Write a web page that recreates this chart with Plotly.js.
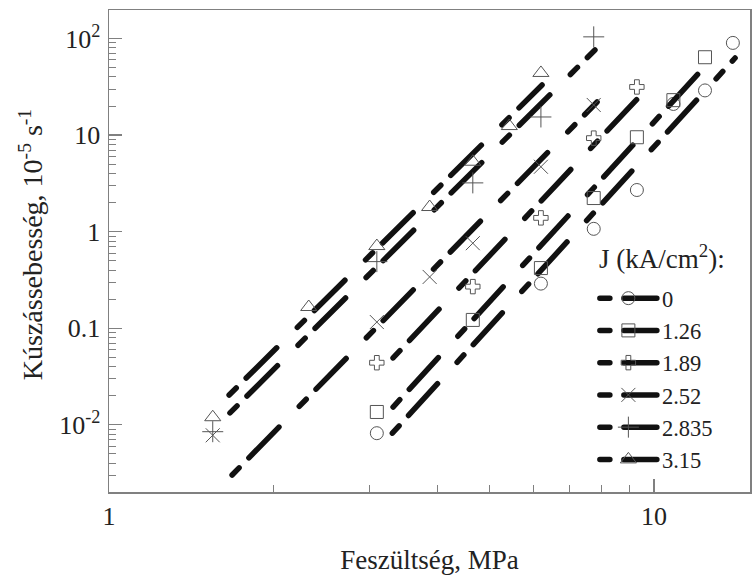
<!DOCTYPE html>
<html><head><meta charset="utf-8">
<script src="https://cdn.plot.ly/plotly-3.0.1.min.js"></script>
<style>
html,body{margin:0;padding:0;background:#fff;}
#chart{width:752px;height:576px;}
.scatterlayer path.js-line, .legendlines path { stroke-linecap: round !important; }
</style></head><body><div id="chart"></div>
<script>
// Legend labels (J, kA/cm^2)
const J_labels = ['0', '1.26', '1.89', '2.52', '2.835', '3.15'];
const legendTitle = 'J (kA/cm<sup>2</sup>):';
const xTitle = 'Feszültség, MPa';
const yTitle = 'Kúszássebesség, 10<sup>-5</sup> s<sup>-1</sup>';

// Measured points: stress (MPa) and creep rate (10^-5 1/s)
const stress_J0    = [3.1, 6.2, 7.75, 9.3, 10.85, 12.4, 13.95];
const rate_J0      = [0.0082, 0.29, 1.07, 2.7, 21, 29, 90];
const stress_J126  = [3.1, 4.65, 6.2, 7.75, 9.3, 10.85, 12.4];
const rate_J126    = [0.0136, 0.122, 0.42, 2.23, 9.5, 23, 64];
const stress_J189  = [3.1, 4.65, 6.2, 7.75, 9.3];
const rate_J189    = [0.044, 0.27, 1.39, 9.3, 31.5];
const stress_J252  = [1.55, 3.1, 3.875, 4.65, 6.2, 7.75];
const rate_J252    = [0.0078, 0.116, 0.34, 0.76, 4.7, 20.5];
const stress_J2835 = [1.55, 3.1, 4.65, 6.2, 7.75];
const rate_J2835   = [0.0085, 0.49, 3.2, 15.4, 104];
const stress_J315  = [1.55, 2.325, 3.1, 3.875, 4.65, 5.425, 6.2];
const rate_J315    = [0.012, 0.166, 0.71, 1.8, 5.3, 12.4, 44];

// Fitted power-law lines (start / end)
const fit_stress_J0    = [3.31, 14.08];
const fit_rate_J0      = [0.0082, 62.8];
const fit_stress_J126  = [3.32, 12.46];
const fit_rate_J126    = [0.0153, 53];
const fit_stress_J189  = [3.32, 9.35];
const fit_rate_J189    = [0.0493, 24.2];
const fit_stress_J252  = [1.682, 7.86];
const fit_rate_J252    = [0.00303, 22.0];
const fit_stress_J2835 = [1.667, 7.79];
const fit_rate_J2835   = [0.0133, 76];
const fit_stress_J315  = [1.661, 6.23];
const fit_rate_J315    = [0.0204, 33.0];

// Axis ticks
const xTickVals = [1, 10];
const xTickText = ['1', '10'];
const yTickVals = [0.01, 0.1, 1, 10, 100];
const yTickText = ['10<sup>-2</sup>', '0.1', '1', '10', '10<sup>2</sup>'];

const pts = [
  [stress_J0, rate_J0], [stress_J126, rate_J126], [stress_J189, rate_J189],
  [stress_J252, rate_J252], [stress_J2835, rate_J2835], [stress_J315, rate_J315]
];
const fits = [
  [fit_stress_J0, fit_rate_J0], [fit_stress_J126, fit_rate_J126], [fit_stress_J189, fit_rate_J189],
  [fit_stress_J252, fit_rate_J252], [fit_stress_J2835, fit_rate_J2835], [fit_stress_J315, fit_rate_J315]
];

// styles
const symbols = ['circle-open', 'square-open', 'cross-open', 'x-thin-open', 'cross-thin-open', 'triangle-up-open'];
const msizes = [13, 13, 12, 14, 15, 14];
const markerColor = '#555555';
const dashPattern = '10px,14px,43px,29px';
const serif = 'Liberation Serif, Times New Roman, serif';

const traces = [];
for (let i = 0; i < J_labels.length; i++) {
  traces.push({
    x: fits[i][0], y: fits[i][1], mode: 'lines', type: 'scatter',
    line: {color: '#111111', width: 5.5, dash: dashPattern},
    showlegend: false, hoverinfo: 'skip'
  });
  traces.push({
    x: pts[i][0], y: pts[i][1], mode: 'markers', type: 'scatter',
    marker: {symbol: symbols[i], size: msizes[i], color: markerColor, line: {width: 1, color: markerColor}},
    showlegend: false
  });
}
for (let i = 0; i < J_labels.length; i++) {
  traces.push({
    x: [null], y: [null], mode: 'lines+markers', type: 'scatter', name: J_labels[i],
    line: {color: '#111111', width: 5.5, dash: dashPattern},
    marker: {symbol: symbols[i], size: msizes[i], color: markerColor, line: {width: 1, color: markerColor}},
    showlegend: true
  });
}

const axisCommon = {
  type: 'log', showgrid: false, zeroline: false, showline: true, mirror: true,
  linecolor: '#808080', linewidth: 1.5, ticks: 'inside', ticklen: 13, tickwidth: 1.2, tickcolor: '#808080',
  tickmode: 'array',
  minor: {ticks: 'inside', ticklen: 7, tickwidth: 1, tickcolor: '#808080', dtick: 'D1', showgrid: false},
  tickfont: {family: serif, size: 26, color: '#222'}
};

const layout = {
  width: 752, height: 576,
  margin: {l: 109, r: 2, t: 10, b: 84},
  paper_bgcolor: '#fff', plot_bgcolor: '#fff',
  font: {family: serif, size: 24, color: '#222'},
  showlegend: true,
  legend: {
    x: 0.758, y: 0.446, xanchor: 'left', yanchor: 'top',
    bgcolor: 'rgba(0,0,0,0)', borderwidth: 0,
    font: {family: serif, size: 22.5}, itemwidth: 57, traceorder: 'normal'
  },
  annotations: [
    {text: legendTitle, xref: 'paper', yref: 'paper', x: 0.761, y: 0.4875, xanchor: 'left', yanchor: 'middle',
     showarrow: false, font: {family: serif, size: 27, color: '#222'}},
    {text: yTitle, xref: 'paper', yref: 'paper', x: -0.1217, y: 0.514, xanchor: 'center', yanchor: 'middle',
     textangle: -90, showarrow: false, font: {family: serif, size: 28, color: '#222'}}
  ],
  xaxis: Object.assign({}, axisCommon, {
    range: [0, 1.176], tickvals: xTickVals, ticktext: xTickText, ticklabelstandoff: 0,
    title: {text: xTitle, font: {family: serif, size: 27}, standoff: 20}
  }),
  yaxis: Object.assign({}, axisCommon, {
    range: [-2.695, 2.295], tickvals: yTickVals, ticktext: yTickText, ticklabelstandoff: 2
  })
};

Plotly.newPlot('chart', traces, layout, {displayModeBar: false, staticPlot: true});
</script></body></html>
